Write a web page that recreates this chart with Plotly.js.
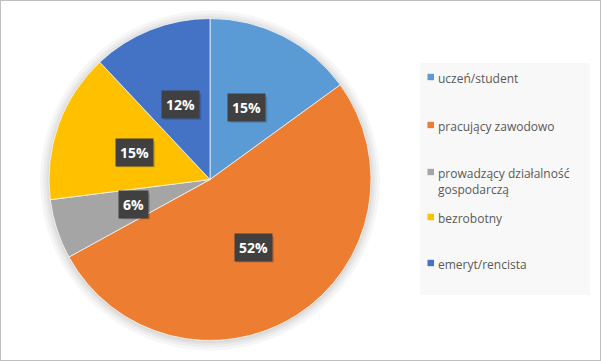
<!DOCTYPE html>
<html><head><meta charset="utf-8">
<script src="https://cdn.plot.ly/plotly-3.0.1.min.js"></script>
<style>html,body{margin:0;padding:0;background:#fff}#chart{width:601px;height:361px}</style>
</head><body><div id="chart"></div>
<script>
// ---- data ----
const categories = ['uczeń/student', 'pracujący zawodowo', 'prowadzący działalność<br>gospodarczą', 'bezrobotny', 'emeryt/rencista'];
const values = [15, 52, 6, 15, 12];
const colors = ['#5B9BD5', '#ED7D31', '#A5A5A5', '#FFC000', '#4472C4'];

// ---- layout geometry (pixels) ----
const W = 601, H = 361;
const CX = 210, CY = 179.5, R = 161;
const px = x => x / W;
const py = y => (H - y) / H;
const legendRowY = [77, 125, 172, 217, 263];
const FONT = 'Open Sans, Noto Sans, sans-serif';

const total = values.reduce((a, b) => a + b, 0);
let cum = 0;
const labelAnns = [], boxShadows = [];
values.forEach((v, i) => {
  const f = (cum + v / 2) / total;
  cum += v;
  const a = 2 * Math.PI * f;
  const x = CX + 0.5 * R * Math.sin(a);
  const y = CY - 0.5 * R * Math.cos(a);
  const pct = String(Math.round(v / total * 100));
  const hw = (8 + 8.6 * pct.length + 12.5) / 2, hh = 13;
  boxShadows.push({type: 'rect', xref: 'paper', yref: 'paper', layer: 'above',
    x0: px(x - hw + 2), x1: px(x + hw + 2), y0: py(y + hh + 2), y1: py(y - hh + 2),
    fillcolor: 'rgba(0,0,0,0.16)', line: {width: 0}});
  labelAnns.push({xref: 'paper', yref: 'paper', x: px(x), y: py(y), showarrow: false,
    xanchor: 'center', yanchor: 'middle', borderpad: 4, text: '<b>' + pct + '%</b>',
    bgcolor: '#404040', font: {family: FONT, size: 14, color: '#ffffff'}});
});

// manual legend
const legendShapes = [{type: 'rect', xref: 'paper', yref: 'paper', layer: 'below',
  x0: px(420), x1: px(590), y0: py(295), y1: py(63), fillcolor: '#f8f8f8', line: {width: 0}}];
const legendAnns = [];
categories.forEach((c, i) => {
  const yc = legendRowY[i];
  legendShapes.push({type: 'rect', xref: 'paper', yref: 'paper',
    x0: px(427.5), x1: px(434), y0: py(yc + 3.2), y1: py(yc - 3.2),
    fillcolor: colors[i], line: {width: 0}});
  legendAnns.push({xref: 'paper', yref: 'paper', x: px(436), y: py(yc - 7.8 - 1),
    xanchor: 'left', yanchor: 'top', align: 'left', showarrow: false, text: c,
    font: {family: FONT, size: 12, color: '#595959'}});
});

// soft shadow around pie
const shadowShapes = [9, 6, 3.5, 1.5].map(d => ({type: 'circle', xref: 'paper', yref: 'paper', layer: 'below',
  x0: px(CX - R - d), x1: px(CX + R + d), y0: py(CY + R + d + 1), y1: py(CY - R - d + 1),
  fillcolor: 'rgba(0,0,0,0.035)', line: {width: 0}}));

const frame = {type: 'rect', xref: 'paper', yref: 'paper', x0: 0, x1: 1, y0: 0, y1: 1,
  line: {color: '#bfbfbf', width: 2}, fillcolor: 'rgba(0,0,0,0)'};

const trace = {
  type: 'pie', labels: categories, values: values, sort: false, direction: 'clockwise', rotation: 0,
  marker: {colors: colors, line: {color: 'rgba(255,255,255,0.7)', width: 1}},
  textinfo: 'none', hoverinfo: 'label+percent',
  domain: {x: [px(CX - R), px(CX + R)], y: [py(CY + R), py(CY - R)]}
};

const layout = {
  width: W, height: H, margin: {l: 0, r: 0, t: 0, b: 0},
  paper_bgcolor: '#ffffff', showlegend: false,
  font: {family: FONT},
  shapes: shadowShapes.concat(legendShapes, boxShadows, [frame]),
  annotations: labelAnns.concat(legendAnns)
};

Plotly.newPlot('chart', [trace], layout, {displayModeBar: false, staticPlot: true});
</script>
</body></html>
